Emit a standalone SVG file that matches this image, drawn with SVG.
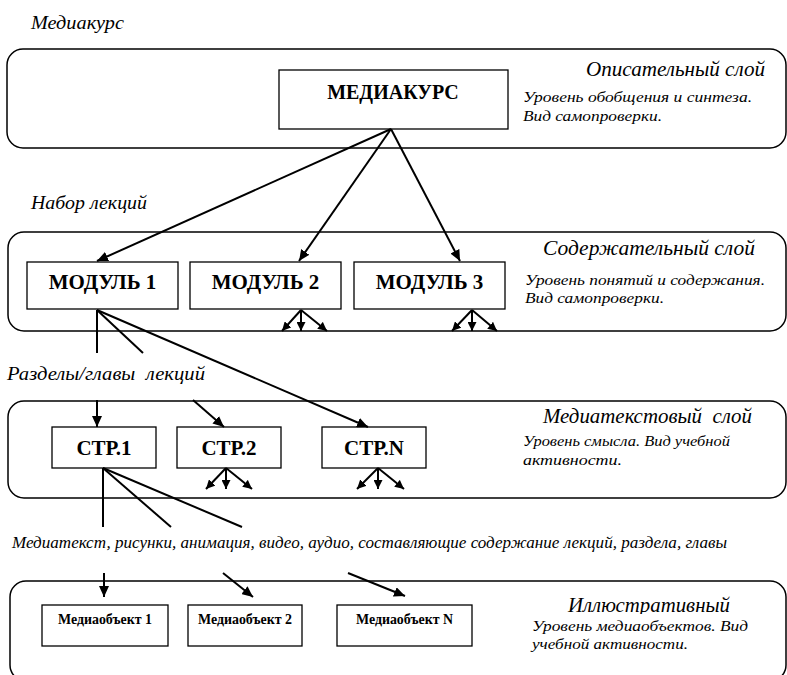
<svg xmlns="http://www.w3.org/2000/svg" width="787" height="675" viewBox="0 0 787 675">
<style>
  .layer { fill: none; stroke: #000; stroke-width: 1.5; }
  .box { fill: #fff; stroke: #000; stroke-width: 1.3; }
  .conn { fill: none; stroke: #000; stroke-width: 2; }
  .lbl { font-family: "Liberation Serif", "DejaVu Serif", serif; font-weight: bold; fill: #000; text-anchor: middle; }
  .it { font-family: "Liberation Serif", "DejaVu Serif", serif; font-style: italic; fill: #000; }
  .ttl { font-size: 20px; }
  .det { font-size: 15px; }
  .cap { font-size: 19px; }
</style>
<defs>
  <marker id="ah" markerUnits="userSpaceOnUse" markerWidth="12" markerHeight="10" refX="11" refY="5" orient="auto">
    <path d="M0,0 L11,5 L0,10 z" fill="#000"/>
  </marker>
  <marker id="ahs" markerUnits="userSpaceOnUse" markerWidth="10" markerHeight="9" refX="9" refY="4.5" orient="auto">
    <path d="M0,0 L9,4.5 L0,9 z" fill="#000"/>
  </marker>
  <clipPath id="clipIll"><rect x="540" y="590" width="247" height="24"/></clipPath>
</defs>
<rect width="787" height="675" fill="#fff"/>

<!-- free captions -->
<text class="it cap" x="31" y="29" textLength="93" lengthAdjust="spacingAndGlyphs">Медиакурс</text>
<text class="it cap" x="31" y="209" textLength="116" lengthAdjust="spacingAndGlyphs">Набор лекций</text>
<text class="it cap" x="7" y="380" textLength="198" lengthAdjust="spacingAndGlyphs" xml:space="preserve">Разделы/главы  лекций</text>
<text class="it" style="font-size:17px" x="12" y="548" textLength="715" lengthAdjust="spacingAndGlyphs">Медиатекст, рисунки, анимация, видео, аудио, составляющие содержание лекций, раздела, главы</text>

<!-- layers -->
<g id="layer-descriptive">
  <rect class="layer" x="7" y="49" width="779" height="99" rx="16"/>
  <text class="it ttl" x="586" y="76" textLength="179" lengthAdjust="spacingAndGlyphs">Описательный слой</text>
  <text class="it det" x="523" y="102" textLength="229" lengthAdjust="spacingAndGlyphs">Уровень обобщения и синтеза.</text>
  <text class="it det" x="523" y="121" textLength="139" lengthAdjust="spacingAndGlyphs">Вид самопроверки.</text>
</g>
<g id="layer-content">
  <rect class="layer" x="8" y="232" width="778" height="99" rx="16"/>
  <text class="it ttl" x="543" y="255" textLength="212" lengthAdjust="spacingAndGlyphs">Содержательный слой</text>
  <text class="it det" x="525" y="285" textLength="240" lengthAdjust="spacingAndGlyphs">Уровень понятий и содержания.</text>
  <text class="it det" x="525" y="303" textLength="139" lengthAdjust="spacingAndGlyphs">Вид самопроверки.</text>
</g>
<g id="layer-mediatext">
  <rect class="layer" x="8" y="401" width="778" height="97" rx="16"/>
  <text class="it ttl" x="543" y="423" textLength="209" lengthAdjust="spacingAndGlyphs" xml:space="preserve">Медиатекстовый  слой</text>
  <text class="it det" x="523" y="446" textLength="207" lengthAdjust="spacingAndGlyphs">Уровень смысла. Вид учебной</text>
  <text class="it det" x="523" y="465" textLength="99" lengthAdjust="spacingAndGlyphs">активности.</text>
</g>
<g id="layer-illustrative">
  <rect class="layer" x="10" y="581" width="776" height="100" rx="16"/>
  <text class="it ttl" x="568" y="612" textLength="162" lengthAdjust="spacingAndGlyphs" clip-path="url(#clipIll)">Иллюстративный</text>
  <text class="it det" x="532" y="631" textLength="216" lengthAdjust="spacingAndGlyphs">Уровень медиаобъектов. Вид</text>
  <text class="it det" x="532" y="649" textLength="156" lengthAdjust="spacingAndGlyphs">учебной активности.</text>
</g>

<!-- nodes -->
<g id="mediakurs">
  <rect class="box" x="279" y="70" width="229" height="59"/>
  <text class="lbl" style="font-size:20px" x="393" y="99">МЕДИАКУРС</text>
</g>
<g id="modul1">
  <rect class="box" x="27" y="262" width="151" height="47"/>
  <text class="lbl" style="font-size:21px" x="102.5" y="289">МОДУЛЬ 1</text>
</g>
<g id="modul2">
  <rect class="box" x="190" y="262" width="151" height="47"/>
  <text class="lbl" style="font-size:21px" x="265.5" y="289">МОДУЛЬ 2</text>
</g>
<g id="modul3">
  <rect class="box" x="354" y="262" width="151" height="47"/>
  <text class="lbl" style="font-size:21px" x="429.5" y="289">МОДУЛЬ 3</text>
</g>
<g id="str1">
  <rect class="box" x="52" y="427" width="104" height="41"/>
  <text class="lbl" style="font-size:21px" x="104" y="455">СТР.1</text>
</g>
<g id="str2">
  <rect class="box" x="177" y="427" width="104" height="41"/>
  <text class="lbl" style="font-size:21px" x="229" y="455">СТР.2</text>
</g>
<g id="strN">
  <rect class="box" x="322" y="427" width="104" height="41"/>
  <text class="lbl" style="font-size:21px" x="374" y="455">СТР.N</text>
</g>
<g id="mo1">
  <rect class="box" x="42" y="605" width="126" height="41"/>
  <text class="lbl" style="font-size:14px" x="105" y="624" textLength="94" lengthAdjust="spacingAndGlyphs">Медиаобъект 1</text>
</g>
<g id="mo2">
  <rect class="box" x="188" y="605" width="114" height="41"/>
  <text class="lbl" style="font-size:14px" x="245" y="624" textLength="94" lengthAdjust="spacingAndGlyphs">Медиаобъект 2</text>
</g>
<g id="moN">
  <rect class="box" x="337" y="605" width="135" height="41"/>
  <text class="lbl" style="font-size:14px" x="404.5" y="624" textLength="97" lengthAdjust="spacingAndGlyphs">Медиаобъект N</text>
</g>

<!-- connectors -->
<g id="connectors" class="conn">
  <line x1="391" y1="129" x2="97" y2="261" marker-end="url(#ah)"/>
  <line x1="391" y1="129" x2="299" y2="261" marker-end="url(#ah)"/>
  <line x1="391" y1="129" x2="460" y2="261" marker-end="url(#ah)"/>

  <line x1="301" y1="310" x2="282" y2="331" marker-end="url(#ahs)"/>
  <line x1="301" y1="310" x2="301" y2="331" marker-end="url(#ahs)"/>
  <line x1="301" y1="310" x2="327" y2="331" marker-end="url(#ahs)"/>
  <line x1="472" y1="310" x2="452" y2="331" marker-end="url(#ahs)"/>
  <line x1="472" y1="310" x2="472" y2="331" marker-end="url(#ahs)"/>
  <line x1="472" y1="310" x2="497" y2="331" marker-end="url(#ahs)"/>

  <line x1="97" y1="310" x2="97" y2="353"/>
  <line x1="97" y1="400" x2="97" y2="427" marker-end="url(#ah)"/>
  <line x1="97" y1="310" x2="143" y2="353"/>
  <line x1="193" y1="400" x2="224" y2="427" marker-end="url(#ah)"/>
  <line x1="97" y1="310" x2="368" y2="427" marker-end="url(#ah)"/>

  <line x1="226" y1="468" x2="206" y2="489" marker-end="url(#ahs)"/>
  <line x1="226" y1="468" x2="226" y2="489" marker-end="url(#ahs)"/>
  <line x1="226" y1="468" x2="252" y2="489" marker-end="url(#ahs)"/>
  <line x1="378" y1="468" x2="357" y2="489" marker-end="url(#ahs)"/>
  <line x1="378" y1="468" x2="378" y2="489" marker-end="url(#ahs)"/>
  <line x1="378" y1="468" x2="404" y2="489" marker-end="url(#ahs)"/>

  <line x1="103" y1="468" x2="103" y2="527"/>
  <line x1="104" y1="573" x2="104" y2="597" marker-end="url(#ah)"/>
  <line x1="103" y1="468" x2="171" y2="527"/>
  <line x1="223" y1="573" x2="253" y2="597" marker-end="url(#ah)"/>
  <line x1="103" y1="468" x2="242" y2="527"/>
  <line x1="348" y1="573" x2="405" y2="596" marker-end="url(#ah)"/>
</g>
</svg>
